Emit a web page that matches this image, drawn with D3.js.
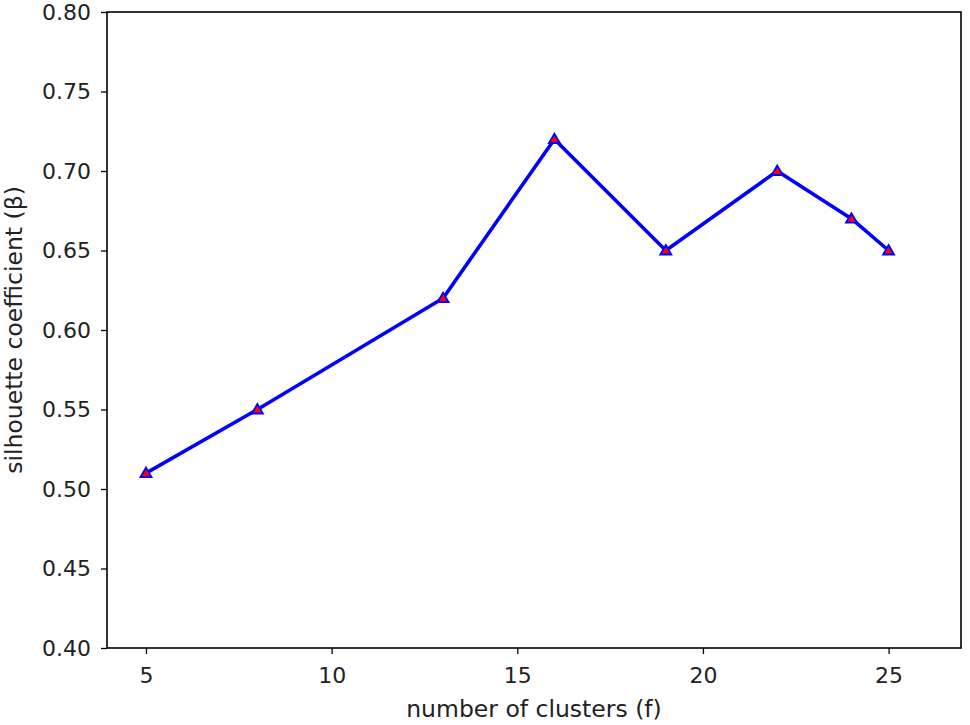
<!DOCTYPE html>
<html>
<head>
<meta charset="utf-8">
<script src="https://cdn.jsdelivr.net/npm/d3@7"></script>
<style>
  body { margin: 0; background: #fff; }
  text { font-family: "DejaVu Sans", sans-serif; }
</style>
</head>
<body>
<script>
// number of clusters and silhouette values
var clusters = [5, 8, 13, 16, 19, 22, 24, 25],
    silhouette = [0.51, 0.55, 0.62, 0.72, 0.65, 0.70, 0.67, 0.65],
    xTicks = [5, 10, 15, 20, 25],
    yTicks = [0.40, 0.45, 0.50, 0.55, 0.60, 0.65, 0.70, 0.75, 0.80];

var W = 970, H = 725,
    m = {top: 12, right: 9, bottom: 77, left: 107},
    w = W - m.left - m.right,
    h = H - m.top - m.bottom;

var pts = clusters.map(function(c, i) { return {x: c, y: silhouette[i]}; });

var x = d3.scaleLinear().domain([3.95, 26.95]).range([0, w]),
    y = d3.scaleLinear().domain([0.40, 0.80]).range([h, 0]);

var svg = d3.select("body").append("svg").attr("width", W).attr("height", H);
var g = svg.append("g").attr("transform", "translate(" + m.left + "," + m.top + ")");

var xAxis = g.append("g").attr("transform", "translate(0," + h + ")")
    .call(d3.axisBottom(x).tickValues(xTicks).tickSize(6).tickPadding(13).tickFormat(d3.format("d")));
var yAxis = g.append("g")
    .call(d3.axisLeft(y).tickValues(yTicks).tickSize(6).tickPadding(10).tickFormat(d3.format(".2f")));

[xAxis, yAxis].forEach(function(a) {
  a.select(".domain").remove();
  a.selectAll("line").attr("stroke", "#000").attr("stroke-width", 1.3);
  a.selectAll("text").attr("fill", "#222").style("font-size", "22px");
});

// frame
g.append("rect").attr("width", w).attr("height", h)
  .attr("fill", "none").attr("stroke", "#000").attr("stroke-width", 1.6);

var line = d3.line().x(function(d) { return x(d.x); }).y(function(d) { return y(d.y); });
g.append("path").datum(pts).attr("d", line)
  .attr("fill", "none").attr("stroke", "#0000ff").attr("stroke-width", 3.6)
  .attr("stroke-linejoin", "round");

g.selectAll(".mk").data(pts).enter().append("path")
  .attr("class", "mk")
  .attr("transform", function(d) { return "translate(" + x(d.x) + "," + y(d.y) + ")"; })
  .attr("d", "M0,-5.5L5.5,4L-5.5,4Z")
  .attr("fill", "#ff0000").attr("stroke", "#0000ff").attr("stroke-width", 1.8);

svg.append("text").attr("x", m.left + w / 2).attr("y", 717)
  .attr("text-anchor", "middle").attr("fill", "#222").style("font-size", "23.5px").text("number of clusters (f)");
svg.append("text").attr("transform", "translate(22," + (m.top + h / 2) + ") rotate(-90)")
  .attr("text-anchor", "middle").attr("fill", "#222").style("font-size", "23.5px").text("silhouette coefficient (β)");
</script>
</body>
</html>
